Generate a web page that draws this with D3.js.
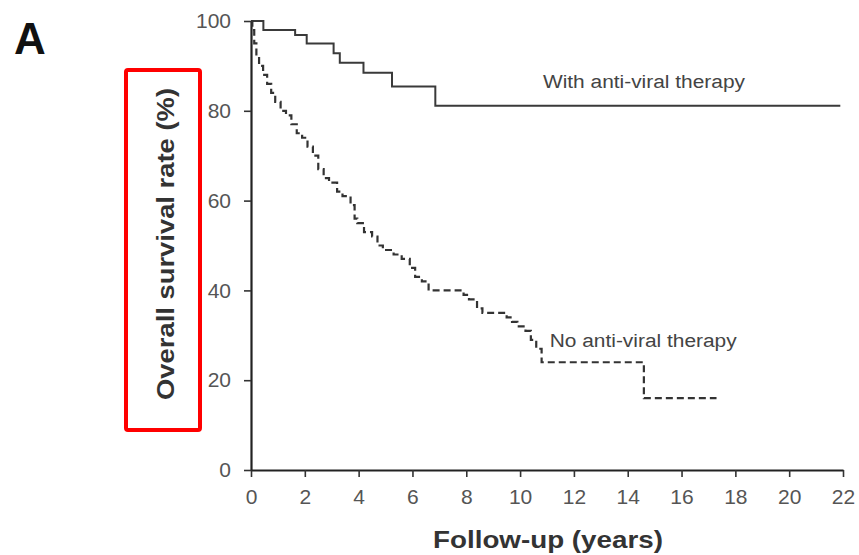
<!DOCTYPE html>
<html>
<head>
<meta charset="utf-8">
<script src="https://cdn.jsdelivr.net/npm/d3@7"></script>
<style>
  body { margin: 0; background: #fff; }
  svg { display: block; font-family: Arial, "Liberation Sans", sans-serif; }
</style>
</head>
<body>
<div id="chart"></div>
<script>
// Kaplan-Meier style survival data
const withTime = [0, 0.46, 1.64, 2.07, 3.07, 3.3, 4.18, 5.24, 6.85, 21.9];
const withSurv = [100, 98, 96.9, 95, 92.8, 90.7, 88.5, 85.4, 81.1, 81.1];

const noTime = [0, 0.05, 0.12, 0.2, 0.3, 0.45, 0.6, 0.75, 0.9, 1.1, 1.3, 1.5, 1.7, 1.9, 2.1, 2.3, 2.5, 2.7, 2.9,
  3.2, 3.4, 3.7, 3.85, 3.95, 4.2, 4.5, 4.7, 4.9, 5.3, 5.6, 5.9, 6.1, 6.35, 6.6, 7.9, 8.1, 8.4, 8.6,
  9.5, 9.7, 9.9, 10.2, 10.4, 10.6, 10.8, 14.6, 17.3];
const noSurv = [100, 98, 95, 92, 90, 88, 86, 84, 82, 80, 79, 77, 75, 74, 72, 70, 67, 65, 64,
  62, 61, 59, 56, 55, 53, 52, 50, 49, 48, 47, 45, 43, 42, 40, 39, 38, 36, 35,
  34, 33, 32, 31, 29, 27, 24, 16, 16];

const xTicks = [0, 2, 4, 6, 8, 10, 12, 14, 16, 18, 20, 22];
const yTicks = [0, 20, 40, 60, 80, 100];

const seriesLabels = ["With anti-viral therapy", "No anti-viral therapy"];
const labelTime = [10.85, 11.1];
const labelSurv = [85, 27.5];

const svg = d3.select('#chart')
  .append('svg')
  .attr('width', 859)
  .attr('height', 555);

const x = d3.scaleLinear().domain([0, 22]).range([251, 843]);
const y = d3.scaleLinear().domain([0, 100]).range([470, 21]);

// Panel letter
svg.append('text')
  .attr('x', 14)
  .attr('y', 54)
  .attr('font-size', 44)
  .attr('font-weight', 'bold')
  .attr('fill', '#111')
  .text('A');

// Axes
const xAxis = svg.append('g')
  .attr('transform', `translate(0,${y(0)})`)
  .call(d3.axisBottom(x).tickValues(xTicks).tickSize(7).tickSizeOuter(0).tickPadding(12));

const yAxis = svg.append('g')
  .attr('transform', `translate(${x(0)},0)`)
  .call(d3.axisLeft(y).tickValues(yTicks).tickSize(7).tickSizeOuter(0).tickPadding(13));

[xAxis, yAxis].forEach(a => {
  a.select('.domain').attr('stroke', '#222').attr('stroke-width', 2.2);
  a.selectAll('.tick line').attr('stroke', '#333').attr('stroke-width', 1.6);
  a.selectAll('.tick text')
    .attr('font-size', 21)
    .attr('fill', '#555')
    .attr('font-family', 'Arial, "Liberation Sans", sans-serif');
});

// Survival curves
const line = d3.line()
  .x(d => x(d[0]))
  .y(d => y(d[1]))
  .curve(d3.curveStepAfter);

svg.append('path')
  .datum(withTime.map((t, i) => [t, withSurv[i]]))
  .attr('fill', 'none')
  .attr('stroke', '#3a3a3a')
  .attr('stroke-width', 2)
  .attr('d', line);

svg.append('path')
  .datum(noTime.map((t, i) => [t, noSurv[i]]))
  .attr('fill', 'none')
  .attr('stroke', '#333')
  .attr('stroke-width', 2.2)
  .attr('stroke-dasharray', '7,4')
  .attr('d', line);

// Curve labels
const labelWidths = [202, 187];
seriesLabels.forEach((s, i) => {
  svg.append('text')
    .attr('x', x(labelTime[i]))
    .attr('y', y(labelSurv[i]))
    .attr('font-size', 18)
    .attr('fill', '#444')
    .attr('textLength', labelWidths[i])
    .attr('lengthAdjust', 'spacingAndGlyphs')
    .text(s);
});

// Axis titles
svg.append('text')
  .attr('x', 548)
  .attr('y', 548)
  .attr('text-anchor', 'middle')
  .attr('font-size', 24)
  .attr('font-weight', 'bold')
  .attr('fill', '#333')
  .attr('textLength', 230)
  .attr('lengthAdjust', 'spacingAndGlyphs')
  .text('Follow-up (years)');

svg.append('text')
  .attr('transform', 'translate(174,244) rotate(-90)')
  .attr('text-anchor', 'middle')
  .attr('font-size', 23)
  .attr('font-weight', 'bold')
  .attr('fill', '#333')
  .attr('textLength', 312)
  .attr('lengthAdjust', 'spacingAndGlyphs')
  .text('Overall survival rate (%)');

// Red highlight box around the y-axis title
svg.append('rect')
  .attr('x', 126)
  .attr('y', 70)
  .attr('width', 74)
  .attr('height', 360)
  .attr('rx', 2)
  .attr('fill', 'none')
  .attr('stroke', '#f00')
  .attr('stroke-width', 4);
</script>
</body>
</html>
